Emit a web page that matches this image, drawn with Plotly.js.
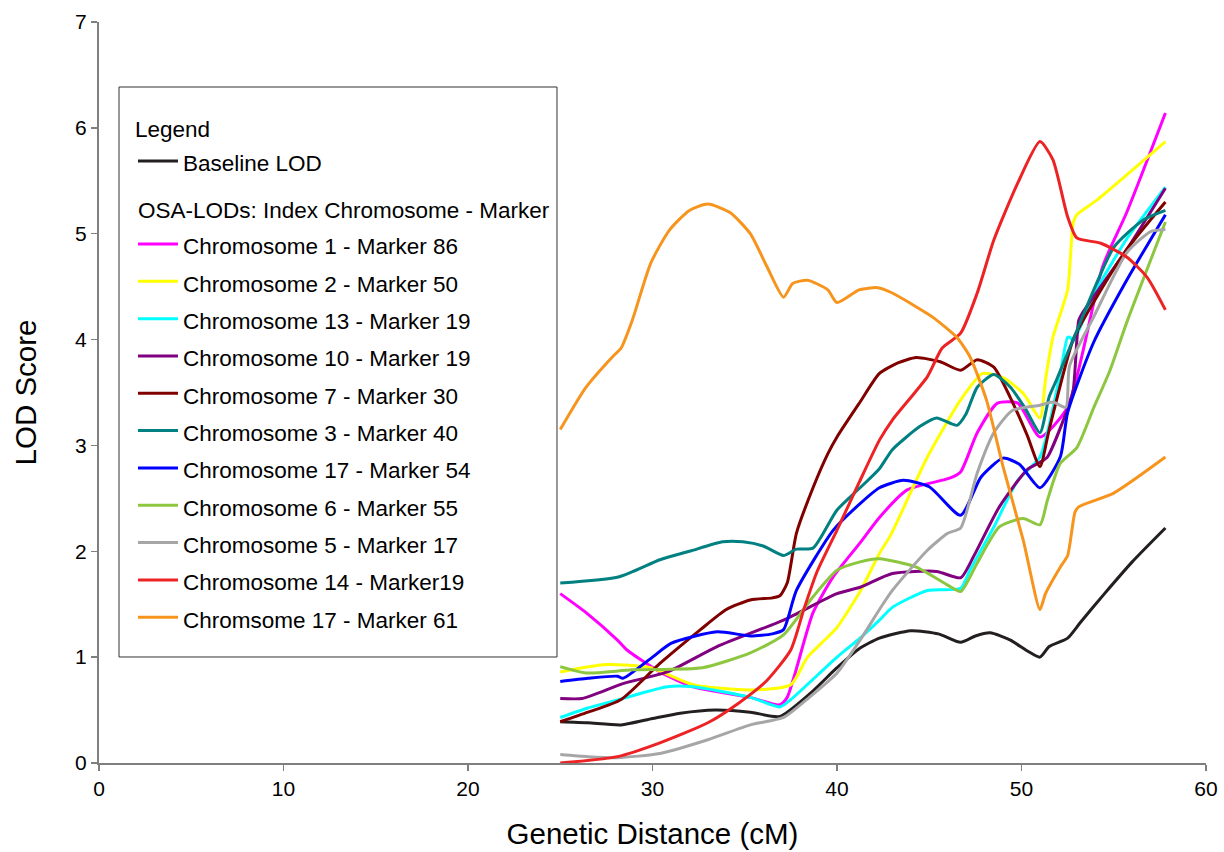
<!DOCTYPE html>
<html>
<head>
<meta charset="utf-8">
<script src="https://cdn.plot.ly/plotly-3.0.1.min.js"></script>
<style>html,body{margin:0;padding:0;background:#fff;}#chart{width:1224px;height:852px;}</style>
</head>
<body>
<div id="chart"></div>
<script>
// ---- data ----
const seriesNames = [
  "Baseline LOD",
  "Chromosome 1 - Marker 86",
  "Chromosome 2 - Marker 50",
  "Chromosome 13 - Marker 19",
  "Chromosome 10 - Marker 19",
  "Chromosome 7 - Marker 30",
  "Chromosome 3 - Marker 40",
  "Chromosome 17 - Marker 54",
  "Chromosome 6 - Marker 55",
  "Chromosome 5 - Marker 17",
  "Chromosome 14 - Marker19",
  "Chromsome 17 - Marker 61"
];
const seriesColors = ["#231f20","#ff00ff","#ffff00","#00ffff","#800080","#800000","#008080","#0000ff","#8dc63f","#a6a6a6","#ed2224","#f7941d"];

const baselineX = [25,26.5,28.3,30,31.5,33.4,35.3,36.9,38.5,40,41.2,42.3,44,45.5,46.7,47.5,48.3,49.4,50.3,51,51.5,52.5,53.2,54.5,56,57.8];
const baselineY = [0.39,0.38,0.36,0.42,0.47,0.5,0.48,0.44,0.65,0.9,1.08,1.18,1.25,1.22,1.14,1.2,1.23,1.16,1.06,1.0,1.1,1.18,1.33,1.6,1.9,2.22];

const chr1X = [25,26.4,28.1,28.6,30.4,32.2,35.3,36.9,37.3,38.7,39.8,41.25,42.3,43.8,46.1,46.7,47.6,48.7,49.8,51,52.5,54.4,55.7,57.8];
const chr1Y = [1.6,1.42,1.16,1.07,0.86,0.72,0.62,0.55,0.62,1.42,1.76,2.08,2.32,2.58,2.69,2.75,3.12,3.4,3.4,3.08,3.36,4.69,5.2,6.14];

const chr2X = [25,27.5,29.9,32.2,35.3,37.5,38.4,39.5,40,41.25,42.3,42.9,44.9,46.7,47.9,49,50.1,51,51.3,51.7,52.5,52.8,53,54.1,57.8];
const chr2Y = [0.86,0.93,0.9,0.74,0.69,0.74,1.0,1.19,1.28,1.62,1.98,2.15,2.89,3.43,3.68,3.64,3.49,3.26,3.62,4.02,4.47,5.1,5.18,5.32,5.87];

const chr13X = [25,26.5,28.4,30.8,32.2,35.3,36.9,37.5,40,41.25,42.3,43,44.9,46.7,47.2,48.5,49.8,51,52.1,52.5,52.65,52.8,54,55.7,57.8];
const chr13Y = [0.43,0.52,0.61,0.72,0.72,0.62,0.53,0.6,1.0,1.18,1.35,1.47,1.63,1.65,1.82,2.23,2.67,2.89,3.68,4.02,4.02,3.98,4.45,4.95,5.44];

const chr10X = [25,26.2,28.4,30.8,33.5,37.1,40,41.25,43,45.4,46.7,47.4,48.8,50.3,51,51.4,52.4,52.8,53.1,53.3,55.7,57.8];
const chr10Y = [0.61,0.61,0.75,0.86,1.1,1.35,1.6,1.66,1.79,1.81,1.75,1.95,2.42,2.77,2.84,2.89,3.3,3.52,4.18,4.25,4.85,5.43];

const chr7X = [25,26.5,28.3,30.4,32.6,34,35.3,36.5,36.9,37.3,37.8,38.7,39.5,40,41.25,42.3,43.3,44.3,45.6,46.7,47.6,48.5,49.4,50.3,51,51.5,52.8,53.9,55.7,57.8];
const chr7Y = [0.39,0.48,0.6,0.94,1.26,1.45,1.54,1.56,1.58,1.7,2.17,2.6,2.92,3.08,3.41,3.68,3.78,3.83,3.79,3.71,3.81,3.74,3.45,3.1,2.8,3.15,4.0,4.35,4.85,5.3];

const chr3X = [25,28.2,30.4,32,33.8,34.9,36,37.1,37.8,38.7,40,41.25,42.3,43,44.5,45.4,46.5,47,47.6,48.5,49.4,50.2,51,51.5,51.9,52.8,55,56.6,57.8];
const chr3Y = [1.7,1.76,1.92,2.0,2.09,2.09,2.05,1.96,2.02,2.03,2.39,2.6,2.78,2.96,3.18,3.26,3.19,3.3,3.55,3.67,3.55,3.35,3.12,3.46,3.62,4.0,4.87,5.13,5.22];

const chr17aX = [25,26.5,28.1,28.4,30,31,33.5,35.3,36.5,37.1,37.8,39.8,41.25,42.3,43.6,45,46.7,47.8,49,49.9,51,52.1,52.5,53.9,55.7,57.8];
const chr17aY = [0.77,0.8,0.82,0.8,1.0,1.13,1.24,1.2,1.22,1.26,1.63,2.2,2.45,2.6,2.67,2.61,2.34,2.7,2.88,2.82,2.6,2.89,3.31,3.97,4.56,5.18];

const chr6X = [25,26.4,28.9,32.7,35.3,37.1,38.7,40,41.25,42.3,44.3,46,46.7,47.6,48.8,50.1,51,51.4,52.1,53,53.9,54.8,55.7,57.8];
const chr6Y = [0.91,0.85,0.88,0.9,1.04,1.21,1.57,1.82,1.9,1.93,1.85,1.68,1.62,1.89,2.23,2.31,2.25,2.48,2.83,2.98,3.35,3.71,4.16,5.11];

const chr5X = [25,26.5,28.1,30.4,33,35.3,37.1,38.5,40,41.25,42.3,43,44.9,46,46.7,47.6,48.5,49.5,51,51.7,52.4,52.6,53.9,55.7,57,57.8];
const chr5Y = [0.08,0.06,0.05,0.09,0.22,0.36,0.43,0.62,0.85,1.16,1.45,1.63,2.01,2.17,2.22,2.74,3.12,3.33,3.38,3.41,3.36,3.75,4.21,4.82,5.02,5.04];

const chr14X = [25,28.1,30.4,33,34.7,36.2,37.5,38.2,38.9,40,41.2,42.3,43,44.9,45.7,46.7,47.6,48.5,49.8,51,51.7,52.5,53,54.3,55.7,56.8,57.8];
const chr14Y = [0.0,0.06,0.19,0.38,0.57,0.78,1.07,1.45,1.8,2.2,2.65,3.05,3.24,3.65,3.92,4.06,4.44,4.94,5.48,5.87,5.7,5.16,4.96,4.91,4.78,4.59,4.28];

const chr17bX = [25,26.4,27.9,28.3,28.9,29.9,30.9,32,33,34.2,35.3,36.2,37.1,37.6,38.4,39.5,40,41.2,42.2,43,44,45.2,46.5,47.2,48.1,49,50.1,51,51.3,52.1,52.5,52.9,53.1,55,57.8];
const chr17bY = [3.15,3.55,3.85,3.92,4.18,4.72,5.03,5.22,5.28,5.2,5.0,4.69,4.4,4.53,4.56,4.47,4.35,4.47,4.49,4.44,4.34,4.21,4.02,3.84,3.43,2.8,2.1,1.45,1.6,1.85,1.96,2.37,2.42,2.55,2.89];

const legendTitle = "Legend";
const groupTitle = "OSA-LODs: Index Chromosome - Marker";
const xTickVals = [0,10,20,30,40,50,60];
const yTickVals = [0,1,2,3,4,5,6,7];

// ---- build traces ----
const xs = [baselineX,chr1X,chr2X,chr13X,chr10X,chr7X,chr3X,chr17aX,chr6X,chr5X,chr14X,chr17bX];
const ys = [baselineY,chr1Y,chr2Y,chr13Y,chr10Y,chr7Y,chr3Y,chr17aY,chr6Y,chr5Y,chr14Y,chr17bY];
const FONT = '"Liberation Sans", Arial, sans-serif';
const TXT = 22.5;                       // visible legend text size
const sized = s => '<span style="font-size:'+TXT+'px">'+s+'</span>';

const traces = seriesNames.map((n,i)=>{
  const t = {
    type:'scatter', mode:'lines', name:sized(n), x:xs[i], y:ys[i],
    line:{color:seriesColors[i], width:3, shape:'spline', smoothing:0.6},
    legendgroup: i===0 ? 'base' : 'osa'
  };
  if(i===1){ t.legendgrouptitle = {text:sized(groupTitle), font:{family:FONT,size:24.4,color:'#000'}}; }
  return t;
});

const layout = {
  width:1224, height:852,
  margin:{l:99, r:18, t:22, b:89},
  paper_bgcolor:'#fff', plot_bgcolor:'#fff',
  font:{family:FONT, size:21, color:'#000'},
  showlegend:true,
  legend:{
    x:0.0307, y:0.8907, xanchor:'left', yanchor:'top',
    bgcolor:'rgba(0,0,0,0)', borderwidth:0,
    font:{family:FONT, size:26.4, color:'#000'},
    title:{text:sized(legendTitle), font:{family:FONT,size:26.4,color:'#000'}},
    tracegroupgap:11, traceorder:'grouped',
    itemwidth:40, indentation:0
  },
  shapes:[{
    type:'rect', xref:'paper', yref:'paper',
    x0:0.01807, x1:0.41373, y0:0.14305, y1:0.91228,
    line:{color:'#333', width:1}, fillcolor:'rgba(0,0,0,0)', layer:'above'
  }],
  xaxis:{
    range:[0,60], tickvals:xTickVals, ticktext:xTickVals.map(String),
    showline:true, linecolor:'#7f7f7f', linewidth:2, mirror:false,
    ticks:'outside', ticklen:6, tickcolor:'#7f7f7f', tickwidth:1.5,
    showgrid:false, zeroline:false,
    tickfont:{family:FONT, size:21, color:'#000'},
    title:{text:'Genetic Distance (cM)', font:{family:FONT,size:29.5,color:'#000'}, standoff:24}
  },
  yaxis:{
    range:[0,7], tickvals:yTickVals, ticktext:yTickVals.map(String),
    showline:true, linecolor:'#7f7f7f', linewidth:2, mirror:false,
    ticks:'outside', ticklen:6, tickcolor:'#7f7f7f', tickwidth:1.5,
    showgrid:false, zeroline:false,
    tickfont:{family:FONT, size:21, color:'#000'},
    title:{text:'LOD Score', font:{family:FONT,size:29.5,color:'#000'}, standoff:30}
  }
};

Plotly.newPlot('chart', traces, layout, {displayModeBar:false, staticPlot:true});
</script>
</body>
</html>
